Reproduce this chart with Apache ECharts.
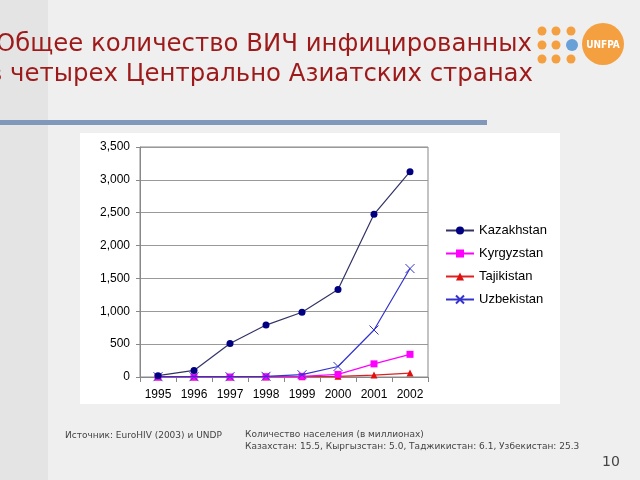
<!DOCTYPE html>
<html><head><meta charset="utf-8">
<script src="https://cdn.jsdelivr.net/npm/echarts@6/dist/echarts.min.js"></script>
<style>html,body{margin:0;padding:0;background:#efefef}#c{width:640px;height:480px}</style>
</head><body><div id="c"></div>
<script>
var years = ['1995','1996','1997','1998','1999','2000','2001','2002'];
var kazakhstan = [20, 100, 510, 790, 985, 1330, 2475, 3125];
var kyrgyzstan = [0, 0, 0, 5, 10, 40, 200, 345];
var tajikistan = [0, 0, 0, 0, 5, 10, 30, 60];
var uzbekistan = [5, 5, 5, 10, 35, 160, 715, 1650];
var seriesNames = ['Kazakhstan','Kyrgyzstan','Tajikistan','Uzbekistan'];
var titleLines = ['Общее количество ВИЧ инфицированных','в четырех Центрально Азиатских странах'];
var sourceText = 'Источник: EuroHIV (2003) и UNDP';
var popLines = ['Количество населения (в миллионах)','Казахстан: 15.5, Кыргызстан: 5.0, Таджикистан: 6.1, Узбекистан: 25.3'];
var pageNum = '10';

var chart = echarts.init(document.getElementById('c'), null, {renderer:'canvas'});
var xPath = 'path://M0,0L10,10M10,0L0,10';
var dots = [];
[[542,31],[556,31],[571,31],[542,45],[556,45],[542,59],[556,59],[571,59]].forEach(function(p){
  dots.push({type:'circle', shape:{cx:p[0], cy:p[1], r:4.5}, style:{fill:'#f4a040'}, z:1});
});
chart.setOption({
  backgroundColor:'#efefef',
  animation:false,
  graphic:[
    {type:'rect', shape:{x:0,y:0,width:48,height:480}, style:{fill:'#e4e4e4'}, z:-10},
    {type:'rect', shape:{x:80,y:133,width:480,height:271}, style:{fill:'#ffffff'}, z:-5},
    {type:'rect', shape:{x:0,y:120,width:487,height:5}, style:{fill:'#8099bb'}, z:1},
    {type:'text', right:108, top:33, style:{text:titleLines[0], font:'24.4px "DejaVu Sans", Verdana, sans-serif', fill:'#9e1a1a', textAlign:'right'}},
    {type:'text', right:107, top:63, style:{text:titleLines[1], font:'24.4px "DejaVu Sans", Verdana, sans-serif', fill:'#9e1a1a', textAlign:'right'}},
    {type:'circle', shape:{cx:603, cy:44, r:21}, style:{fill:'#f4a040'}, z:1},
    {type:'circle', shape:{cx:572, cy:45, r:6}, style:{fill:'#6aa0d8'}, z:2},
    {type:'text', x:603, y:45, style:{text:'UNFPA', font:'bold 10px "DejaVu Sans Condensed", "Liberation Sans", sans-serif', fill:'#ffffff', textAlign:'center', textVerticalAlign:'middle'}, z:3},
    {type:'text', x:65, y:431, style:{text:sourceText, font:'9px "DejaVu Sans", Verdana, sans-serif', fill:'#444'}},
    {type:'text', x:245, y:430, style:{text:popLines[0], font:'9px "DejaVu Sans", Verdana, sans-serif', fill:'#444'}},
    {type:'text', x:245, y:442, style:{text:popLines[1], font:'9px "DejaVu Sans", Verdana, sans-serif', fill:'#444'}},
    {type:'text', x:602, y:455, style:{text:pageNum, font:'14px "DejaVu Sans", Verdana, sans-serif', fill:'#444'}}
  ].concat(dots),
  grid:{left:140, right:212, top:147, bottom:103, show:true, borderColor:'#888', borderWidth:1, backgroundColor:'transparent'},
  legend:{
    orient:'vertical', left:440, top:219, itemWidth:28, itemHeight:10, itemGap:10,
    textStyle:{fontFamily:'Arial, "Liberation Sans", sans-serif', fontSize:13, color:'#000'},
    data:seriesNames
  },
  xAxis:{
    type:'category', data:years, boundaryGap:true,
    axisLine:{lineStyle:{color:'#888'}},
    axisTick:{show:true, interval:0, length:5, lineStyle:{color:'#888'}},
    axisLabel:{margin:12, fontFamily:'Arial, "Liberation Sans", sans-serif', fontSize:12, color:'#000'}
  },
  yAxis:{
    type:'value', min:0, max:3500, interval:500,
    axisLine:{show:true, lineStyle:{color:'#888'}},
    axisTick:{show:true, length:4, lineStyle:{color:'#888'}},
    splitLine:{lineStyle:{color:'#999'}},
    axisLabel:{margin:10, fontFamily:'Arial, "Liberation Sans", sans-serif', fontSize:12, color:'#000',
      formatter:function(v){return v.toLocaleString('en-US');}}
  },
  series:[
    {name:seriesNames[0], type:'line', data:kazakhstan, symbol:'circle', symbolSize:7,
      lineStyle:{color:'#333366', width:1.2}, itemStyle:{color:'#000080'}, z:5},
    {name:seriesNames[1], type:'line', data:kyrgyzstan, symbol:'rect', symbolSize:7,
      lineStyle:{color:'#ff00ff', width:1.2}, itemStyle:{color:'#ff00ff'}, z:3},
    {name:seriesNames[2], type:'line', data:tajikistan, symbol:'triangle', symbolSize:7,
      lineStyle:{color:'#e02020', width:1.2}, itemStyle:{color:'#e01010'}, z:2},
    {name:seriesNames[3], type:'line', data:uzbekistan, symbol:xPath, symbolSize:9,
      lineStyle:{color:'#3333cc', width:1.2}, itemStyle:{color:'#3333cc', borderColor:'#3333cc', borderWidth:1}, z:4}
  ]
});
</script></body></html>
